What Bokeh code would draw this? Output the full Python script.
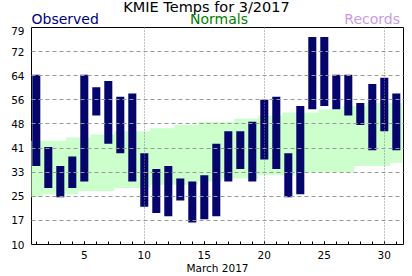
from bokeh.plotting import figure
from bokeh.models import FixedTicker, Label, Range1d
from bokeh.layouts import column
from bokeh.embed import file_html
from bokeh.resources import INLINE

# ---- data ----
days = list(range(1, 32))
obs_high = [64, 41, 35, 38, 64, 60, 62, 57, 58, 39, 34, 35, 31, 30, 32, 42,
            46, 46, 49, 56, 57, 39, 54, 76, 76, 64, 64, 55, 61, 63, 58]
obs_low = [35, 28, 25, 28, 30, 51, 42, 39, 30, 22, 20, 19, 24, 17, 18, 19,
           30, 34, 30, 37, 34, 25, 26, 53, 54, 53, 51, 48, 40, 46, 40]
norm_high = [43, 43, 43, 44, 44, 45, 45, 46, 46, 46, 47, 47, 48, 48, 49, 49,
             49, 50, 50, 51, 51, 52, 52, 52, 53, 53, 54, 54, 55, 55, 55]
norm_low = [25, 26, 26, 26, 27, 27, 27, 28, 28, 28, 29, 29, 29, 29, 30, 30,
            31, 31, 31, 32, 32, 32, 33, 33, 33, 33, 33, 35, 35, 35, 36]
y_min, y_max = 10, 79
y_tick_labels = ["10", "17", "25", "33", "41", "48", "56", "64", "72", "79"]
x_tick_days = [5, 10, 15, 20, 25, 30]
x_grid_days = [10, 20, 30]

title_text = "KMIE Temps for 3/2017"
legend_texts = ["Observed", "Normals", "Records"]
legend_colors = ["#000080", "#008000", "#cc99e8"]
x_label_text = "March 2017"

FONT = "DejaVu Sans"
NAVY = "#05056b"
W, H = 412, 276
HEAD = 26          # header strip with title and legend words
BL, BR = 31, 9     # same side borders for both parts so frames line up
X0, X1 = 0.6, 31.6
PPX = (W - BL - BR) / (X1 - X0)
TEXT_SHIFT = 5.5   # correction for where Bokeh places the text baseline

def dx(px):
    return X0 + (px - BL) / PPX

# ---- header strip (title + series names) ----
hd = figure(width=W, height=HEAD, output_backend="svg", toolbar_location=None,
            title=None, tools="", x_range=Range1d(X0, X1), y_range=Range1d(0, HEAD),
            x_axis_type=None, y_axis_type=None,
            min_border_left=BL, min_border_right=BR, min_border_top=0,
            min_border_bottom=0)
hd.outline_line_color = None
hd.background_fill_color = "white"
hd.border_fill_color = "white"
hd.xgrid.visible = False
hd.ygrid.visible = False

def head_label(text, px_x, base_px_y, color, size, align):
    hd.add_layout(Label(x=dx(px_x), y=HEAD - base_px_y + TEXT_SHIFT, text=text,
                        text_font=FONT, text_font_size=size, text_color=color,
                        text_align=align, text_baseline="alphabetic"))

head_label(title_text, 206, 12, "black", "14.5px", "center")
head_label(legend_texts[0], 31, 24, legend_colors[0], "14px", "left")
head_label(legend_texts[1], 189.5, 24, legend_colors[1], "14px", "left")
head_label(legend_texts[2], 399.5, 24, legend_colors[2], "14px", "right")

# ---- main chart ----
p = figure(width=W, height=H - HEAD, output_backend="svg", toolbar_location=None,
           title=None, tools="", x_range=Range1d(X0, X1),
           y_range=Range1d(y_min, y_max),
           min_border_left=BL, min_border_right=BR, min_border_top=1,
           min_border_bottom=30)
p.background_fill_color = "white"
p.border_fill_color = "white"
p.outline_line_color = "black"
p.outline_line_width = 1

# normals band (stepped per day)
edges = [d - 0.5 for d in days] + [days[-1] + 0.5]
p.varea_step(x=edges, y1=norm_low + [norm_low[-1]], y2=norm_high + [norm_high[-1]],
             step_mode="after", fill_color="#ccffcc", fill_alpha=1.0)

# observed bars
p.vbar(x=days, width=0.67, bottom=obs_low, top=obs_high,
       fill_color=NAVY, line_color=None)

# axes
y_ticks = [round(y_min + (y_max - y_min) * k / (len(y_tick_labels) - 1), 4)
           for k in range(len(y_tick_labels))]
p.yaxis.ticker = FixedTicker(ticks=y_ticks)
p.yaxis.major_label_overrides = {t: s for t, s in zip(y_ticks, y_tick_labels)}
p.yaxis.axis_line_color = None
p.yaxis.major_tick_out = 0
p.yaxis.major_tick_in = 0
p.yaxis.minor_tick_line_color = None
p.yaxis.major_label_standoff = 7
p.yaxis.major_label_text_font = FONT
p.yaxis.major_label_text_font_size = "10.5px"
p.yaxis.major_label_text_color = "black"

p.xaxis.ticker = FixedTicker(ticks=x_tick_days, minor_ticks=days)
p.xaxis.axis_line_color = None
p.xaxis.major_tick_out = 0
p.xaxis.major_tick_in = 3
p.xaxis.minor_tick_out = 0
p.xaxis.minor_tick_in = 3
p.xaxis.major_tick_line_color = "black"
p.xaxis.minor_tick_line_color = "black"
p.xaxis.major_label_standoff = 6
p.xaxis.major_label_text_font = FONT
p.xaxis.major_label_text_font_size = "10.5px"
p.xaxis.major_label_text_color = "black"
p.xaxis.axis_label = x_label_text
p.xaxis.axis_label_standoff = 0
p.xaxis.axis_label_text_font = FONT
p.xaxis.axis_label_text_font_size = "10.5px"
p.xaxis.axis_label_text_font_style = "normal"
p.xaxis.axis_label_text_color = "black"

# grids drawn over the bars
p.xgrid.ticker = FixedTicker(ticks=x_grid_days)
p.xgrid.grid_line_color = "#808080"
p.xgrid.grid_line_dash = "1 2"
p.xgrid.level = "overlay"
p.ygrid.ticker = FixedTicker(ticks=y_ticks[1:-1])
p.ygrid.grid_line_color = "#999999"
p.ygrid.grid_line_dash = "4 3"
p.ygrid.level = "overlay"

page = column(hd, p, spacing=0)
open("out.html", "w").write(file_html(page, INLINE))
